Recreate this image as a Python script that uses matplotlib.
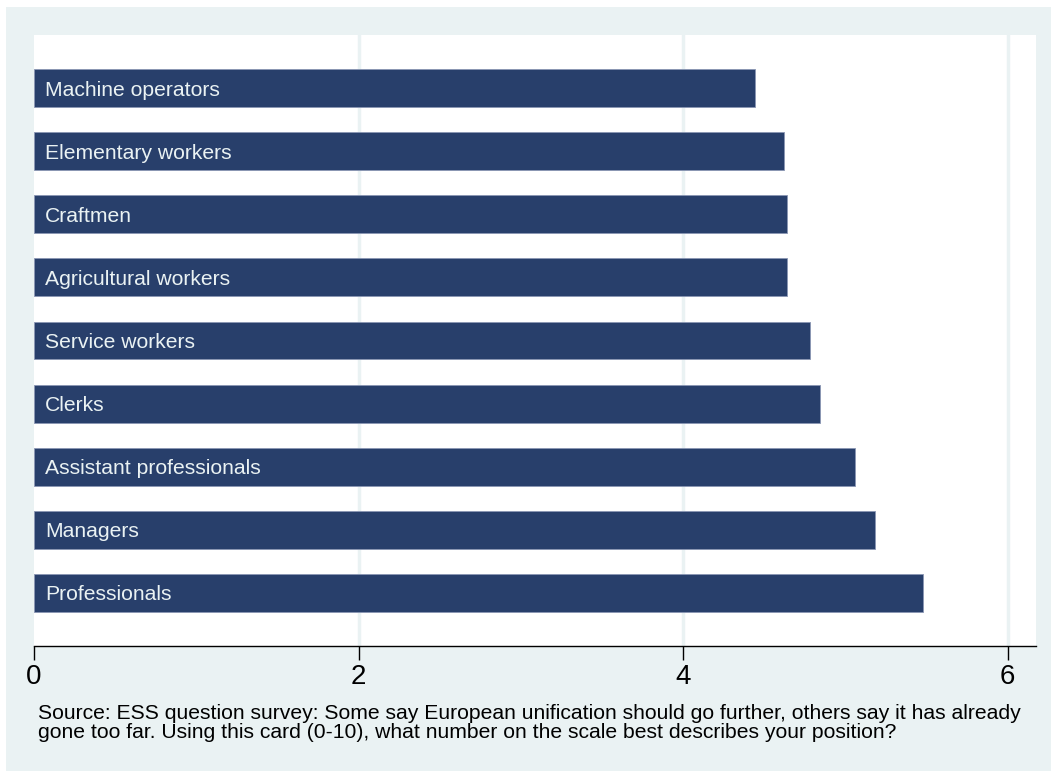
import matplotlib
matplotlib.use("Agg")
import matplotlib.pyplot as plt
from matplotlib.patches import Rectangle

categories = ["Machine operators", "Elementary workers", "Craftmen", "Agricultural workers",
              "Service workers", "Clerks", "Assistant professionals", "Managers", "Professionals"]
values = [4.44, 4.62, 4.64, 4.64, 4.78, 4.84, 5.06, 5.18, 5.48]
xticks = [0, 2, 4, 6]
note = ("Source: ESS question survey: Some say European unification should go further, others say it has already\n"
        "gone too far. Using this card (0-10), what number on the scale best describes your position?")

plt.rcParams['font.family'] = ['Liberation Sans', 'DejaVu Sans']
W, H = 1051, 771
fig = plt.figure(figsize=(W / 100, H / 100), dpi=100, facecolor="white")
bg = "#EAF2F3"
bgax = fig.add_axes([6 / W, 0, 1 - 6 / W, 1 - 7 / H], zorder=-10)
bgax.set_facecolor(bg)
bgax.set_axis_off()
bgax.add_patch(Rectangle((0, 0), 1, 1, transform=bgax.transAxes, facecolor=bg, edgecolor="none"))

left, right, top, bottom = 34, 1036, 35, 646
ax = fig.add_axes([left / W, 1 - bottom / H, (right - left) / W, (bottom - top) / H], zorder=1)
ax.set_facecolor("white")
x1 = (right - left) / 162.3
ax.set_xlim(0, x1)
ax.set_ylim(len(categories) - 1 + 0.84, -0.84)

for g in xticks[1:]:
    ax.axvline(g, color=bg, lw=2.5, zorder=0)

pos = list(range(len(categories)))
ax.barh(pos, values, height=0.6, color="#283F6B", edgecolor="#8a96b3", linewidth=0.6, zorder=2)
for p, c in zip(pos, categories):
    ax.text(0.07, p, c, color="#EAF2F3", fontsize=15.2, va="center_baseline", ha="left", zorder=3)

for s in ["top", "right", "left"]:
    ax.spines[s].set_visible(False)
ax.spines["bottom"].set_linewidth(1.0)
ax.set_yticks([])
ax.set_xticks(xticks)
ax.set_xticklabels([str(t) for t in xticks], fontsize=20)
ax.tick_params(axis="x", length=10, width=1, pad=3)

fig.text(38 / W, 1 - 704 / H, note, fontsize=15.2, va="top", ha="left", linespacing=1.0)

fig.savefig("out.png", dpi=100, facecolor="white")
